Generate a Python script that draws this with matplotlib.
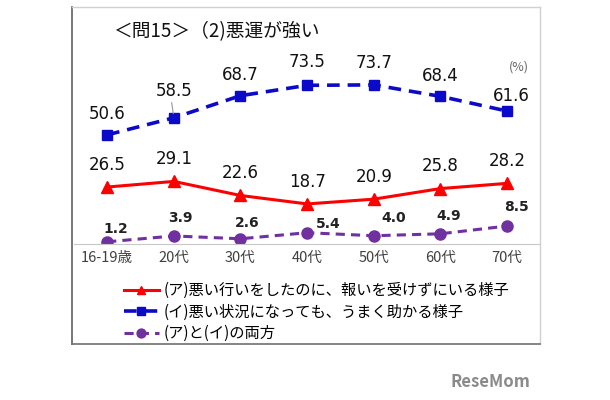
import matplotlib
matplotlib.use("Agg")
import matplotlib.pyplot as plt
from matplotlib.lines import Line2D

plt.rcParams['font.family'] = ['Noto Sans CJK JP', 'DejaVu Sans']

# data
ages = ['16-19歳', '20代', '30代', '40代', '50代', '60代', '70代']
series_a = [26.5, 29.1, 22.6, 18.7, 20.9, 25.8, 28.2]
series_b = [50.6, 58.5, 68.7, 73.5, 73.7, 68.4, 61.6]
series_ab = [1.2, 3.9, 2.6, 5.4, 4.0, 4.9, 8.5]
labels = ['(ア)悪い行いをしたのに、報いを受けずにいる様子',
          '(イ)悪い状況になっても、うまく助かる様子',
          '(ア)と(イ)の両方']
title = '＜問15＞（2)悪運が強い'

red = '#FF0000'
blue = '#0A0AC8'
purple = '#7030A0'

fig = plt.figure(figsize=(6.1, 4.0), dpi=100)
ax = fig.add_axes([0.121, 0.389, 0.765, 0.487])
x = range(len(ages))

ax.plot(x, series_a, color=red, lw=2.2, marker='^', ms=8, label=labels[0])
ax.plot(x, series_b, color=blue, lw=2.6, ls=(0, (3.5, 2.2)), marker='s', ms=7.5,
        label=labels[1])
ax.plot(x, series_ab, color=purple, lw=2.2, ls=(0, (3, 2)), marker='o', ms=8,
        label=labels[2])

ax.set_xlim(-0.5, 6.5)
ax.set_ylim(0, 90)
ax.set_xticks(list(x))
ax.set_xticklabels(ages, fontsize=10.5, color='#404040')
ax.tick_params(axis='x', length=0, pad=5)
ax.set_yticks([])
for s in ['top', 'right', 'left']:
    ax.spines[s].set_visible(False)
ax.spines['bottom'].set_color('#C8C8C8')

# data labels (offsets in points)
num_font = 'DejaVu Sans'
off_b = [(0, 15), (0, 19), (0, 15), (0, 17), (0, 16), (0, 15), (3, 11)]
off_ab = [(6, 9), (5, 13), (5, 11), (15, 6), (14, 13), (6, 13), (7, 14)]
for i in x:
    ax.annotate(f'{series_a[i]:.1f}', (i, series_a[i]), xytext=(0, 16),
                textcoords='offset points', ha='center', va='center',
                fontsize=12, family=num_font, color='#111111')
    ax.annotate(f'{series_b[i]:.1f}', (i, series_b[i]), xytext=off_b[i],
                textcoords='offset points', ha='center', va='center',
                fontsize=12, family=num_font, color='#111111')
    ax.annotate(f'{series_ab[i]:.1f}', (i, series_ab[i]), xytext=off_ab[i],
                textcoords='offset points', ha='center', va='center',
                fontsize=10, family=num_font, fontweight='bold', color='#222222')
# leader line for 58.5
ax.annotate('', (1, series_b[1]), xytext=(-1.5, 11), textcoords='offset points',
            arrowprops=dict(arrowstyle='-', color='#999999', lw=0.8,
                            shrinkA=0, shrinkB=3))

fig.text(0.185, 0.92, title, fontsize=13.5, ha='left', va='center', color='#111111')
fig.text(0.85, 0.832, '(%)', fontsize=9, ha='center', va='center', color='#666666')

# outer frame
fig.add_artist(Line2D([0.118, 0.118], [0.14, 0.983], color='#606060', lw=1.2))
fig.add_artist(Line2D([0.118, 0.885], [0.983, 0.983], color='#D0D0D0', lw=1))
fig.add_artist(Line2D([0.885, 0.885], [0.14, 0.983], color='#D0D0D0', lw=1))
fig.add_artist(Line2D([0.118, 0.885], [0.14, 0.14], color='#707070', lw=1.2))

fig.legend(loc='upper left', bbox_to_anchor=(0.193, 0.31), frameon=False,
           fontsize=11, handlelength=2.3, handletextpad=0.3, labelspacing=0.3,
           borderaxespad=0, markerscale=0.8)

fig.text(0.87, 0.045, 'ReseMom', fontsize=12, fontweight='bold', color='#8A8A8A',
         ha='right', va='center')

fig.savefig('out.png', dpi=100)
